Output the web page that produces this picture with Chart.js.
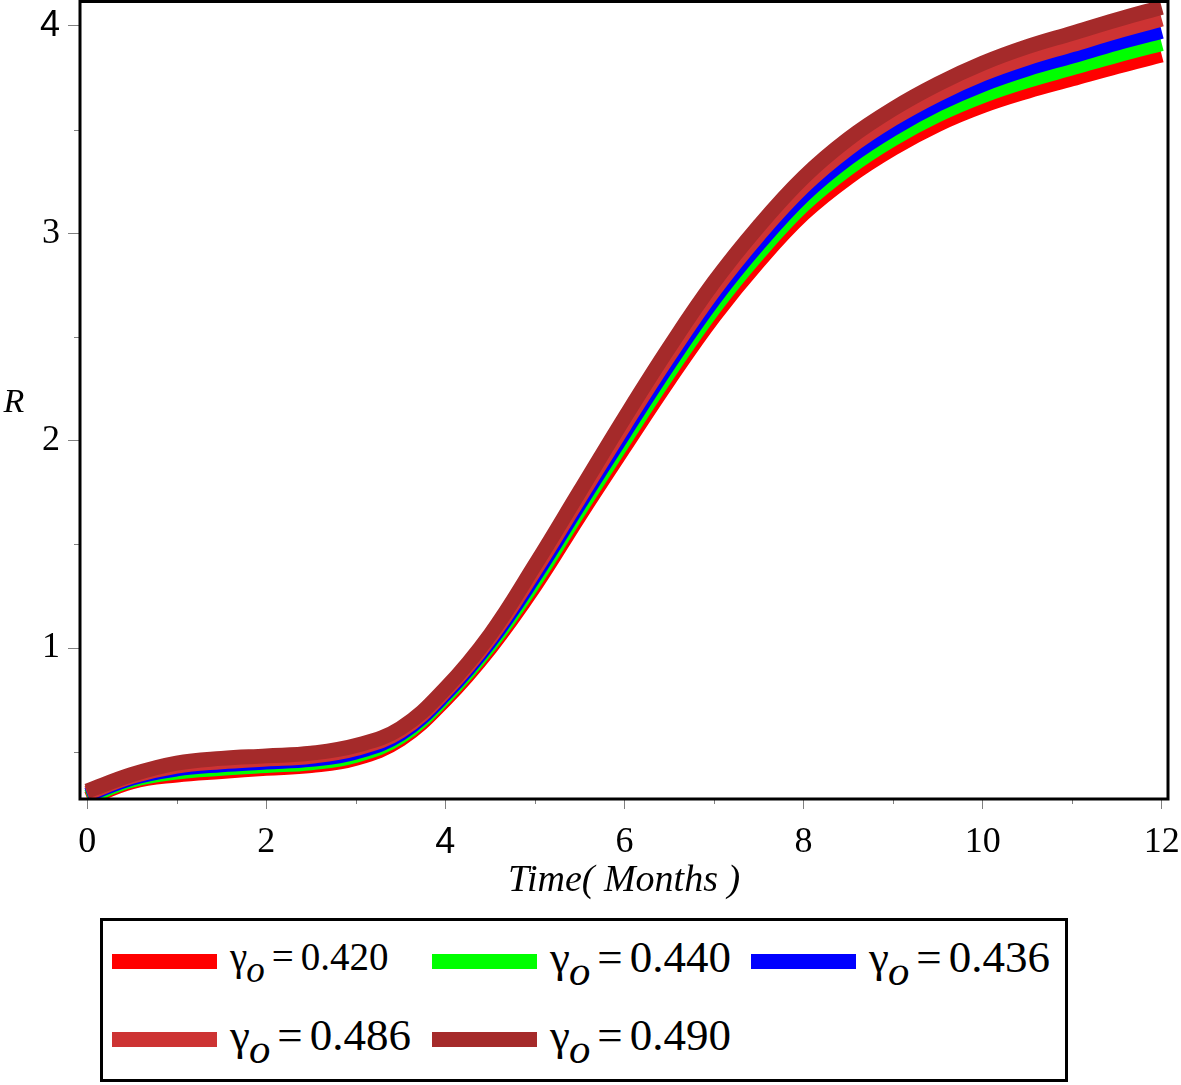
<!DOCTYPE html>
<html>
<head>
<meta charset="utf-8">
<title>R vs time</title>
<script src="https://cdn.jsdelivr.net/npm/chart.js@4.4.1/dist/chart.umd.min.js"></script>
<style>
  html, body { margin: 0; padding: 0; background: #fff; }
  #wrap { position: relative; width: 1181px; height: 1085px; overflow: hidden; }
  #plot { position: absolute; left: 0; top: 0; }
  #legend {
    position: absolute; left: 100px; top: 918px;
    width: 962px; height: 158px;
    border: 3px solid #000;
    font-family: 'Liberation Serif', 'Times New Roman', serif;
    font-size: 45px; color: #000;
  }
  .item { position: absolute; height: 60px; display: flex; align-items: center; white-space: nowrap; }
  .swatch { width: 105px; height: 15px; margin-right: 13px; flex: none; }
  .item sub { font-style: italic; font-size: 0.95em; position: relative; top: 3px; margin-left: -1px; margin-right: 7px; }
  .item .eq { margin-right: 7px; }
  .i0 { left: 9px;   top: 10px; font-size: 39px; }
  .i1 { left: 329px; top: 10px; }
  .i2 { left: 648px; top: 10px; }
  .i3 { left: 9px;   top: 88px; }
  .i4 { left: 329px; top: 88px; }
</style>
</head>
<body>
<div id="wrap">
  <canvas id="plot" width="1181" height="905"></canvas>
  <div id="legend"></div>
</div>
<script>
'use strict';

var months = [0, 0.5, 1, 1.5, 2, 2.5, 3, 3.5, 4, 4.5, 5, 5.5, 6, 6.5, 7, 7.5, 8, 8.5, 9, 9.5, 10, 10.5, 11, 11.5, 12];

var r420 = [0.272, 0.355, 0.388, 0.405, 0.420, 0.433, 0.468, 0.560, 0.752, 1.000, 1.300, 1.640, 1.970,
  2.295, 2.600, 2.865, 3.095, 3.270, 3.410, 3.525, 3.615, 3.685, 3.745, 3.805, 3.860];
var r440 = [0.281, 0.363, 0.402, 0.420, 0.434, 0.447, 0.483, 0.573, 0.765, 1.016, 1.324, 1.668, 2.004,
  2.332, 2.640, 2.906, 3.137, 3.314, 3.456, 3.572, 3.664, 3.737, 3.798, 3.859, 3.915];
var r436 = [0.291, 0.373, 0.417, 0.437, 0.450, 0.463, 0.499, 0.587, 0.779, 1.033, 1.350, 1.698, 2.040,
  2.373, 2.683, 2.950, 3.183, 3.363, 3.505, 3.623, 3.718, 3.793, 3.855, 3.918, 3.975];
var r486 = [0.300, 0.381, 0.431, 0.452, 0.465, 0.478, 0.515, 0.600, 0.792, 1.049, 1.375, 1.726, 2.075,
  2.411, 2.724, 2.993, 3.226, 3.409, 3.553, 3.671, 3.769, 3.846, 3.910, 3.974, 4.033];
var r490 = [0.310, 0.390, 0.445, 0.468, 0.480, 0.493, 0.530, 0.613, 0.805, 1.065, 1.400, 1.755, 2.110,
  2.450, 2.765, 3.035, 3.270, 3.455, 3.600, 3.720, 3.820, 3.900, 3.965, 4.030, 4.090];

var gammaLabels = ['0.420', '0.440', '0.436', '0.486', '0.490'];
var lineColors = ['#ff0000', '#00ff00', '#0000ff', '#cd3333', '#a52a2a'];
var allSeries = [r420, r440, r436, r486, r490];

var xMajor = [0, 2, 4, 6, 8, 10, 12];
var xMinor = [1, 3, 5, 7, 9, 11];
var yMajor = [1, 2, 3, 4];
var yMinor = [0.5, 1.5, 2.5, 3.5];

var xTitle = 'Time( Months )';
var yTitle = 'R';

var serif = "'Liberation Serif', 'Times New Roman', serif";
var sans = "'Liberation Sans', Arial, sans-serif";

function points (vals) {
  return months.map(function (t, i) { return { x: t, y: vals[i] }; });
}

// first series drawn first, last one ends up on top
var datasets = allSeries.map(function (vals, i) {
  return {
    label: gammaLabels[i],
    data: points(vals),
    order: allSeries.length - i,
    borderColor: lineColors[i],
    backgroundColor: lineColors[i],
    borderWidth: 15,
    borderCapStyle: 'butt',
    borderJoinStyle: 'round',
    pointRadius: 0,
    tension: 0.4,
    fill: false,
    clip: 0
  };
});

// minor ticks, the closed frame and the horizontal R label
var framePlugin = {
  id: 'frame',
  afterDatasetsDraw: function (chart) {
    var ctx = chart.ctx;
    var a = chart.chartArea;
    var xs = chart.scales.x;
    var ys = chart.scales.y;
    ctx.save();
    ctx.strokeStyle = '#808080';
    ctx.lineWidth = 1;
    xMinor.forEach(function (v) {
      var px = Math.round(xs.getPixelForValue(v)) + 0.5;
      ctx.beginPath();
      ctx.moveTo(px, a.bottom);
      ctx.lineTo(px, a.bottom + 5);
      ctx.stroke();
    });
    yMinor.forEach(function (v) {
      var py = Math.round(ys.getPixelForValue(v)) + 0.5;
      ctx.beginPath();
      ctx.moveTo(a.left, py);
      ctx.lineTo(a.left - 6, py);
      ctx.stroke();
    });
    ctx.strokeStyle = '#000';
    ctx.lineWidth = 3;
    ctx.strokeRect(a.left, a.top, a.right - a.left, a.bottom - a.top);

    ctx.fillStyle = '#000';
    ctx.font = 'italic 34px ' + serif;
    ctx.textAlign = 'center';
    ctx.textBaseline = 'middle';
    ctx.fillText(yTitle, 14, (a.top + a.bottom) / 2 + 3);
    ctx.restore();
  }
};

function tickFont (c) {
  var v = c.tick ? c.tick.value : 0;
  return { family: v === 4 ? sans : serif, size: 36 };
}

var ctx = document.getElementById('plot').getContext('2d');
var chart = new Chart(ctx, {
  type: 'line',
  data: { datasets: datasets },
  plugins: [framePlugin],
  options: {
    responsive: false,
    animation: false,
    devicePixelRatio: 1,
    layout: { padding: { top: 1.5, right: 13, left: 0, bottom: 0 } },
    plugins: {
      legend: { display: false },
      tooltip: { enabled: false }
    },
    scales: {
      x: {
        type: 'linear',
        min: -0.08,
        max: 12.07,
        afterFit: function (scale) {
          scale.height = 106;
          scale.paddingLeft = 0;
          scale.paddingRight = 0;
        },
        afterBuildTicks: function (scale) {
          scale.ticks = xMajor.map(function (v) { return { value: v }; });
        },
        border: { display: false },
        grid: {
          drawOnChartArea: false,
          drawTicks: true,
          tickLength: 10,
          tickColor: '#808080',
          tickWidth: 1
        },
        ticks: {
          padding: 12,
          color: '#000',
          maxRotation: 0,
          autoSkip: false,
          font: tickFont
        },
        title: {
          display: true,
          text: xTitle,
          color: '#000',
          font: { family: serif, size: 38, style: 'italic', lineHeight: 1.2 },
          padding: { top: 0, bottom: 1 }
        }
      },
      y: {
        type: 'linear',
        min: 0.272,
        max: 4.118,
        afterFit: function (scale) {
          scale.width = 80;
          scale.paddingTop = 0;
          scale.paddingBottom = 0;
        },
        afterBuildTicks: function (scale) {
          scale.ticks = yMajor.map(function (v) { return { value: v }; });
        },
        border: { display: false },
        grid: {
          drawOnChartArea: false,
          drawTicks: true,
          tickLength: 12,
          tickColor: '#808080',
          tickWidth: 1
        },
        ticks: {
          padding: 8,
          color: '#000',
          autoSkip: false,
          font: tickFont
        }
      }
    }
  }
});

// legend box below the plot, built from the same labels and colours
var legend = document.getElementById('legend');
gammaLabels.forEach(function (lab, i) {
  var item = document.createElement('div');
  item.className = 'item i' + i;
  var sw = document.createElement('span');
  sw.className = 'swatch';
  sw.style.background = lineColors[i];
  item.appendChild(sw);
  var txt = document.createElement('span');
  txt.innerHTML = 'γ<sub>o</sub><span class="eq">=</span>' + lab;
  item.appendChild(txt);
  legend.appendChild(item);
});
</script>
</body>
</html>
